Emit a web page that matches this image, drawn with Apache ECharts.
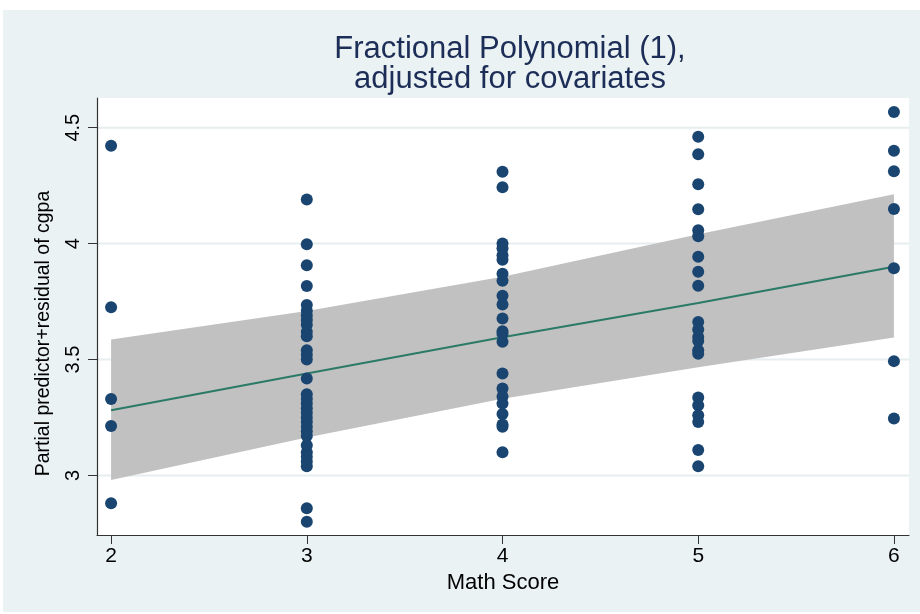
<!DOCTYPE html>
<html>
<head>
<meta charset="utf-8">
<script src="https://cdn.jsdelivr.net/npm/echarts@6/dist/echarts.min.js"></script>
<style>
html,body{margin:0;padding:0;background:#ffffff;}
#c{width:920px;height:614px;}
</style>
</head>
<body>
<div id="c"></div>
<script>
// ---- data ----
var titleLines = ['Fractional Polynomial (1),', 'adjusted for covariates'];
var xTicks = [2, 3, 4, 5, 6];
var yTicks = [3, 3.5, 4, 4.5];
var fitX = [2, 3, 4, 5, 6];
var fitY = [3.281, 3.44, 3.596, 3.744, 3.90];
var ciUpper = [3.586, 3.709, 3.857, 4.04, 4.213];
var ciLower = [2.98, 3.164, 3.331, 3.467, 3.595];
var ptsX2 = [4.422, 3.725, 3.330, 3.213, 2.880];
var ptsX3 = [4.19, 3.997, 3.907, 3.817, 3.735, 3.71, 3.69, 3.67, 3.65, 3.62, 3.60,
             3.54, 3.52, 3.50, 3.418, 3.35, 3.33, 3.31, 3.29, 3.27, 3.25, 3.23, 3.21,
             3.19, 3.17, 3.13, 3.10, 3.08, 3.06, 3.04, 2.858, 2.80];
var ptsX4 = [4.31, 4.243, 4.0, 3.98, 3.95, 3.93, 3.87, 3.84, 3.775, 3.737, 3.677, 3.622,
             3.61, 3.577, 3.44, 3.375, 3.34, 3.31, 3.265, 3.22, 3.21, 3.10];
var ptsX5 = [4.461, 4.385, 4.256, 4.148, 4.058, 4.032, 3.943, 3.879, 3.818, 3.662, 3.629,
             3.597, 3.58, 3.54, 3.525, 3.336, 3.303, 3.26, 3.23, 3.11, 3.04];
var ptsX6 = [4.568, 4.40, 4.312, 4.149, 3.894, 3.493, 3.246];

var groups = [[2, ptsX2], [3, ptsX3], [4, ptsX4], [5, ptsX5], [6, ptsX6]];
var scatterData = [];
groups.forEach(function (g) { g[1].forEach(function (v) { scatterData.push([g[0], v]); }); });
var fitData = fitX.map(function (x, i) { return [x, fitY[i]]; });
var bandData = fitX.map(function (x, i) { return [x, ciLower[i], ciUpper[i]]; });
var xMin = 1.928, xMax = 6.077, yMin = 2.743, yMax = 4.628;
var gridData = yTicks.map(function (v) { return [xMin, v]; });

var chart = echarts.init(document.getElementById('c'));
var font = 'Liberation Sans, Arial, sans-serif';
chart.setOption({
  animation: false,
  backgroundColor: '#ffffff',
  graphic: [
    { type: 'rect', z: -10, silent: true, shape: { x: 3, y: 10, width: 917, height: 602 }, style: { fill: '#EAF2F3' } },
    { type: 'rect', z: -9, silent: true, shape: { x: 97, y: 98, width: 812, height: 437 }, style: { fill: '#ffffff' } }
  ],
  title: {
    text: titleLines.join('\n'),
    left: 505, top: 29, textAlign: 'center',
    textStyle: { fontFamily: font, fontSize: 31, fontWeight: 'normal', color: '#1c2d57', lineHeight: 30 }
  },
  grid: { left: 97, right: 11, top: 98, bottom: 79 },
  xAxis: {
    type: 'value', min: xMin, max: xMax,
    name: 'Math Score', nameLocation: 'middle', nameGap: 35,
    nameTextStyle: { fontFamily: font, fontSize: 22, color: '#000' },
    axisLine: { show: true, lineStyle: { color: '#333', width: 1.2 } },
    axisTick: { show: true, length: 9, lineStyle: { color: '#333' }, customValues: xTicks },
    axisLabel: { fontFamily: font, fontSize: 21, color: '#000', margin: 11, customValues: xTicks },
    splitLine: { show: false }
  },
  yAxis: {
    type: 'value', min: yMin, max: yMax,
    name: 'Partial predictor+residual of cgpa', nameLocation: 'middle', nameGap: 43,
    nameTextStyle: { fontFamily: font, fontSize: 19.5, color: '#000', padding: [0, 34, 0, 0] },
    axisLine: { show: true, lineStyle: { color: '#333', width: 1.2 } },
    axisTick: { show: true, length: 9, lineStyle: { color: '#333' }, customValues: yTicks },
    axisLabel: { fontFamily: font, fontSize: 20, color: '#000', margin: 14, rotate: 90, customValues: yTicks,
                 formatter: function (v) { return String(v); } },
    splitLine: { show: false }
  },
  series: [
    {
      type: 'custom', z: 0, silent: true,
      renderItem: function (params, api) {
        var v = api.value(1);
        var p1 = api.coord([xMin, v]);
        var p2 = api.coord([xMax, v]);
        return { type: 'line', shape: { x1: p1[0], y1: p1[1], x2: p2[0], y2: p2[1] },
                 style: { stroke: '#E6EEF0', lineWidth: 2 } };
      },
      data: gridData
    },
    {
      type: 'custom', z: 1, silent: true,
      renderItem: function (params, api) {
        if (params.dataIndex !== 0) return null;
        var top = [], bot = [];
        for (var i = 0; i < bandData.length; i++) {
          top.push(api.coord([bandData[i][0], bandData[i][2]]));
          bot.unshift(api.coord([bandData[i][0], bandData[i][1]]));
        }
        return { type: 'polygon', shape: { points: top.concat(bot) }, style: { fill: '#c1c1c1' } };
      },
      data: bandData,
      encode: { x: 0, y: [1, 2] }
    },
    {
      type: 'line', z: 3, data: fitData, symbol: 'none', silent: true,
      lineStyle: { color: '#2b7a68', width: 2 }
    },
    {
      type: 'scatter', z: 4, data: scatterData, symbolSize: 12, silent: true,
      itemStyle: { color: '#1a4570', opacity: 1 }
    }
  ]
});
</script>
</body>
</html>
